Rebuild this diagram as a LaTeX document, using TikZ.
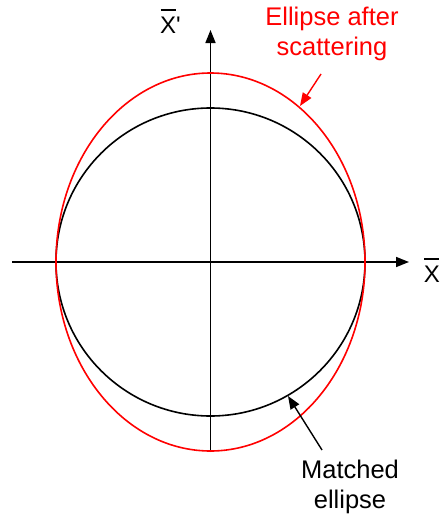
\documentclass[tikz,border=0pt]{standalone}
\usepackage{fontspec}
\setmainfont{Liberation Sans}
\usetikzlibrary{arrows.meta}
\newcommand\barX{\makebox[0pt][l]{\hspace{0.02em}\raisebox{0.93em}{\rule{0.62em}{1.4pt}}}X}
\begin{document}
\begin{tikzpicture}[x=1pt,y=-1pt,
  axis/.style={line width=1.6pt,-{Triangle[length=13pt,width=10pt]}},
  pointer/.style={line width=1.4pt,-{Triangle[length=13pt,width=10pt]}},
  lbl/.style={font=\fontsize{25.5}{30}\selectfont,align=center,inner sep=0pt},
  sym/.style={font=\fontsize{24}{28}\selectfont,inner sep=0pt}]
\useasboundingbox (0,0) rectangle (444,525);
\coordinate (o) at (210.5,262);
\coordinate (xl) at (12,262);
\coordinate (xr) at (409,262);
\coordinate (yb) at (210.5,452);
\coordinate (yt) at (210.5,30);
\draw[axis] (xl) -- (xr);
\draw[axis] (yb) -- (yt);
\draw[black,line width=1.6pt] (o) ellipse [x radius=154.5, y radius=154];
\draw[red,line width=1.6pt] (o) ellipse [x radius=154.5, y radius=189];
\node[sym,anchor=base] (xb) at (432,282) {\barX};
\node[sym,anchor=base west] (xpb) at (160,33) {\barX\textquotesingle};
\node[lbl,text=red] (sc) at (332,34) {Ellipse after\\scattering};
\node[lbl] (me) at (350,487) {Matched\\ellipse};
\coordinate (a1) at (321,74);
\coordinate (a1t) at (300,106);
\draw[pointer,red] (a1) -- (a1t);
\coordinate (a2) at (322,450);
\coordinate (a2t) at (288,396);
\draw[pointer] (a2) -- (a2t);
\end{tikzpicture}
\end{document}
